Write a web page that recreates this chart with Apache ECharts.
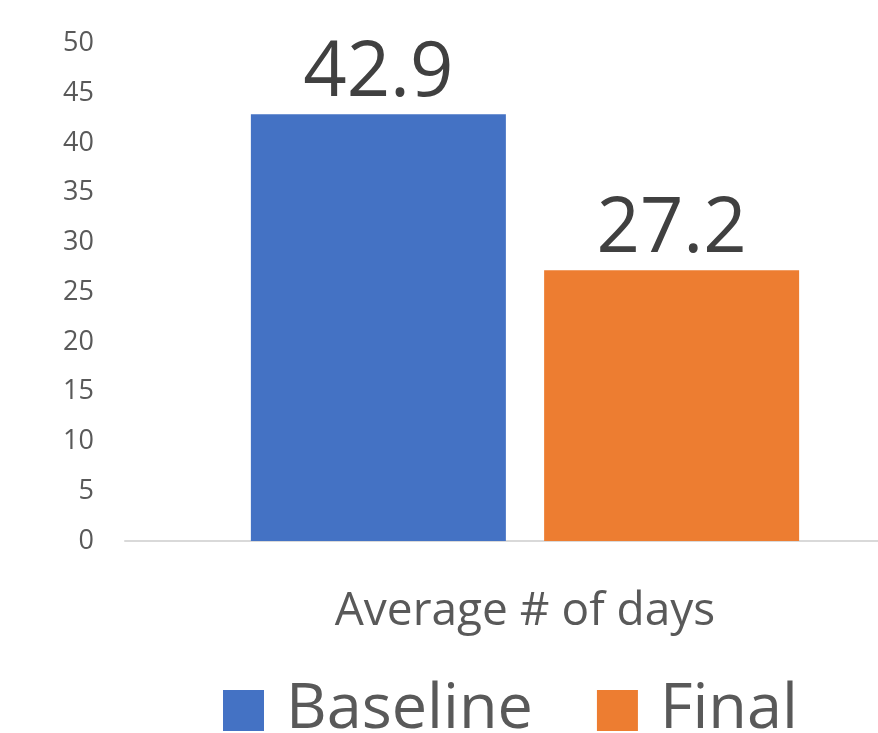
<!DOCTYPE html>
<html>
<head>
<meta charset="utf-8">
<script src="https://cdn.jsdelivr.net/npm/echarts@6/dist/echarts.min.js"></script>
<style>
  html, body { margin: 0; padding: 0; background: #fff; }
  #chart { width: 878px; height: 733px; }
</style>
</head>
<body>
<div id="chart"></div>
<script>
var categories = ["Average # of days"];
var baseline = [42.9];
var final = [27.2];
var seriesNames = ["Baseline", "Final"];

var font = "'Open Sans', 'Noto Sans', sans-serif";

var chart = echarts.init(document.getElementById("chart"));
var option = {
  animation: false,
  color: ["#4472C4", "#ED7D31"],
  textStyle: { fontFamily: font },
  grid: {
    left: 125,
    top: 43.5,
    width: 800,
    height: 497.5,
    outerBoundsMode: "none"
  },
  legend: {
    data: seriesNames,
    left: 218,
    top: 674,
    itemWidth: 41,
    itemHeight: 41,
    itemGap: 64,
    icon: "rect",
    textStyle: { fontSize: 63, color: "#595959", fontFamily: font, padding: [0, 0, 0, 17] }
  },
  xAxis: {
    type: "category",
    data: categories,
    axisTick: { show: false },
    axisLine: { lineStyle: { color: "#D9D9D9", width: 2 } },
    axisLabel: { fontSize: 46, color: "#595959", margin: 48, fontFamily: font }
  },
  yAxis: {
    type: "value",
    min: 0,
    max: 50,
    interval: 5,
    axisLine: { show: false },
    axisTick: { show: false },
    splitLine: { show: false },
    axisLabel: { fontSize: 27, color: "#595959", margin: 31, fontFamily: font }
  },
  series: [
    {
      name: seriesNames[0],
      type: "bar",
      data: baseline,
      barWidth: 255,
      barGap: "15%",
      label: { show: true, position: "top", distance: 2, fontSize: 76, color: "#404040", fontFamily: font }
    },
    {
      name: seriesNames[1],
      type: "bar",
      data: final,
      barWidth: 255,
      label: { show: true, position: "top", distance: 2, fontSize: 76, color: "#404040", fontFamily: font }
    }
  ]
};
chart.setOption(option);
</script>
</body>
</html>
